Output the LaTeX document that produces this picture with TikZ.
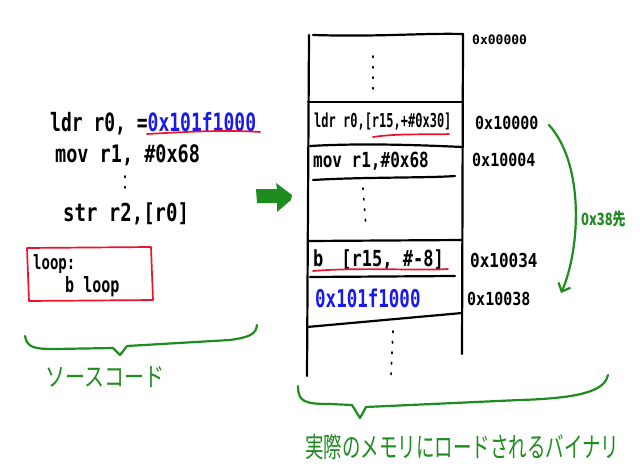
\documentclass[tikz,border=0pt]{standalone}
\usepackage{fontspec}
\setmonofont{DejaVu Sans Mono}
\newfontfamily\jpfont{Noto Sans CJK JP}
\usetikzlibrary{arrows.meta}
\definecolor{hgreen}{RGB}{30,140,30}
\definecolor{hblue}{RGB}{25,25,235}
\definecolor{hred}{RGB}{235,20,45}
\newcommand\talltext[2]{\scalebox{1}[#1]{#2}}
\tikzset{
  ink/.style={line width=2.2pt, line cap=round, line join=round},
  redink/.style={draw=hred, line width=1.7pt, line cap=round, line join=round},
  greenink/.style={draw=hgreen, line width=2.2pt, line cap=round, line join=round},
  dotline/.style={line width=1.7pt, line cap=round, dash pattern=on 1.5pt off 9pt},
  code/.style={anchor=west, inner sep=0pt, font=\ttfamily\bfseries\fontsize{#1}{#1}\selectfont},
  addr/.style={anchor=west, inner sep=0pt, font=\ttfamily\bfseries\fontsize{#1}{#1}\selectfont},
  jplabel/.style={anchor=west, inner sep=0pt, text=hgreen, font=\jpfont\fontsize{#1}{#1}\selectfont},
}
\begin{document}
\begin{tikzpicture}[x=1pt,y=-1pt]
\useasboundingbox (0,0) rectangle (640,471);
\fill[white] (0,0) rectangle (640,471);

% ---------- left: source code ----------
\node[code=18] (ldr) at (50,124) {\talltext{1.4}{ldr r0, =\textcolor{hblue}{0x101f1000}}};
\draw[redink] (147,134) .. controls (200,131) and (230,130) .. (260,132);
\node[code=18.5] (mov) at (55,155) {\talltext{1.3}{mov r1, \#0x68}};
\draw[dotline] (125,176) -- (125,197);
\node[code=19] (str) at (63,214) {\talltext{1.3}{str r2,[r0]}};
\draw[redink] (27,248) -- (151,247) -- (153,300) -- (29,301) -- cycle;
\node[code=14] (loop) at (33,264) {\talltext{1.4}{loop:}};
\node[code=15] (bloop) at (65,287) {\talltext{1.4}{b loop}};

% source brace
\draw[greenink] (25,336) .. controls (27,348) and (35,349) .. (55,349)
  -- (113,348) -- (120,355) -- (127,346) -- (230,340)
  .. controls (252,337) and (256,333) .. (257,325);
\node[jplabel=20] (srclabel) at (45,377) {\talltext{1.3}{ソースコード}};

% ---------- block arrow ----------
\fill[hgreen] (256,189) -- (277,189) -- (276,183) -- (292,195) -- (291,200) -- (277,212) -- (277,203) -- (257,203) -- cycle;

% ---------- right: memory ----------
\draw[ink] (309,35) -- (307,376);
\draw[ink] (463,34) -- (462,354);
\draw[ink] (313,35) .. controls (380,37) and (420,33) .. (463,34);
\draw[dotline] (373,56) -- (373,90);
\draw[ink] (308,102) -- (463,102);
\node[code=12] (m1) at (314,122) {\talltext{1.6}{ldr r0,[r15,+\#0x30]}};
\draw[redink] (373,137) .. controls (400,133) and (430,135) .. (449,134);
\draw[ink] (310,146) .. controls (360,143) and (420,145) .. (462,147);
\node[code=16] (m2) at (313,161) {\talltext{1.3}{mov r1,\#0x68}};
\draw[ink] (313,180) .. controls (360,177) and (430,178) .. (455,176);
\draw[dotline] (363,188) -- (366,228);
\draw[ink] (308,241) -- (462,240);
\node[code=17] (m3) at (313,260) {\talltext{1.3}{b\hspace{18pt}[r15, \#-8]}};
\draw[redink] (313,271) .. controls (360,267) and (420,271) .. (448,269);
\draw[ink] (310,277) -- (455,276);
\node[code=17.5, text=hblue] (m4) at (315,298) {\talltext{1.4}{0x101f1000}};
\draw[ink] (307,327) -- (462,313);
\draw[dotline] (393,331) -- (391,376);

\node[addr=13] (a0) at (472,40) {0x00000};
\node[addr=15] (a1) at (475,123) {\talltext{1.2}{0x10000}};
\node[addr=15] (a2) at (472,160) {\talltext{1.2}{0x10004}};
\node[addr=16] (a3) at (470,261) {\talltext{1.2}{0x10034}};
\node[addr=15] (a4) at (467,299) {\talltext{1.2}{0x10038}};

% jump arrow
\coordinate (jfrom) at (549,125);
\coordinate (jto) at (561,293);
\draw[greenink, -{Straight Barb[length=7pt,width=13pt]}] (jfrom) .. controls (585,165) and (580,250) .. (jto);
\node[jplabel=13, font=\jpfont\bfseries\fontsize{13}{13}\selectfont] (off) at (581,219) {\talltext{1.3}{0x38先}};

% memory brace
\draw[greenink] (298,386) .. controls (298,402) and (305,404) .. (330,404)
  -- (352,405) -- (360,418) -- (366,407) -- (520,400)
  .. controls (590,398) and (605,388) .. (608,375);
\node[jplabel=18.5] (memlabel) at (305,447) {\talltext{1.5}{実際のメモリにロードされるバイナリ}};
\end{tikzpicture}
\end{document}
